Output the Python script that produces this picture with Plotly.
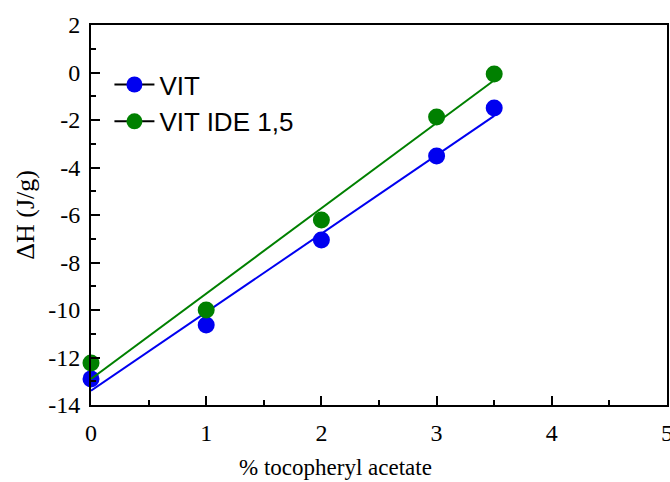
import numpy as np
import plotly.graph_objects as go

# Data
conc = [0, 1, 2, 3, 3.5]
vit = [-12.9, -10.63, -7.05, -3.52, -1.49]
vit_ide = [-12.23, -10.0, -6.21, -1.87, -0.06]
series_names = ["VIT", "VIT IDE 1,5"]
colors = ["#0000F0", "#008000"]
x_ticks = [0, 1, 2, 3, 4, 5]
y_ticks = [2, 0, -2, -4, -6, -8, -10, -12, -14]
y_ticktext = ["2", "0", "-2", "-4", "-6", "-8", "-10", "-12", "-14"]

fig = go.Figure()
for name, ys, col in zip(series_names, [vit, vit_ide], colors):
    slope, icpt = np.polyfit(conc, ys, 1)
    xf = np.array([min(conc), max(conc)])
    fig.add_trace(go.Scatter(x=xf, y=slope * xf + icpt, mode="lines",
                             line=dict(color=col, width=2), showlegend=False,
                             hoverinfo="skip"))
    fig.add_trace(go.Scatter(x=conc, y=ys, mode="markers",
                             marker=dict(color=col, size=17), showlegend=False,
                             cliponaxis=False))
    fig.add_trace(go.Scatter(x=[None], y=[None], mode="lines+markers", name=name,
                             marker=dict(color=col, size=17),
                             line=dict(color="black", width=2)))

axis_common = dict(showline=True, linecolor="black", linewidth=2, mirror=True,
                   ticks="inside", ticklen=9, tickwidth=2, tickcolor="black",
                   showgrid=False, zeroline=False, ticklabeloverflow="allow",
                   automargin=False,
                   tickfont=dict(family="Liberation Serif", size=24, color="black"))

fig.update_xaxes(range=[0, 5], tickvals=x_ticks,
                 minor=dict(ticks="inside", ticklen=5, tickwidth=2, dtick=0.5,
                            tickcolor="black", showgrid=False),
                 ticklabelstandoff=5,
                 **axis_common)
fig.update_yaxes(range=[-14, 2], tickvals=y_ticks, ticktext=y_ticktext,
                 minor=dict(ticks="inside", ticklen=5, tickwidth=2, dtick=1,
                            tickcolor="black", showgrid=False),
                 ticklabelstandoff=4,
                 **axis_common)

fig.add_annotation(text="% tocopheryl acetate", xref="paper", yref="paper",
                   x=0.425, y=-0.165, showarrow=False, yanchor="middle",
                   font=dict(family="Liberation Serif", size=23, color="black"))
fig.add_annotation(text="ΔH (J/g)", xref="paper", yref="paper",
                   x=-0.115, y=0.5, showarrow=False, textangle=-90,
                   xanchor="center", yanchor="middle",
                   font=dict(family="Liberation Serif", size=26, color="black"))

fig.update_layout(
    width=670, height=482,
    margin=dict(l=91, r=3, t=25, b=77),
    plot_bgcolor="white", paper_bgcolor="white",
    legend=dict(x=0.032, y=0.905, xanchor="left", yanchor="top",
                bgcolor="rgba(0,0,0,0)", itemwidth=40, tracegroupgap=0,
                font=dict(family="Liberation Sans", size=26, color="black")),
)

fig.write_html("out.html")
